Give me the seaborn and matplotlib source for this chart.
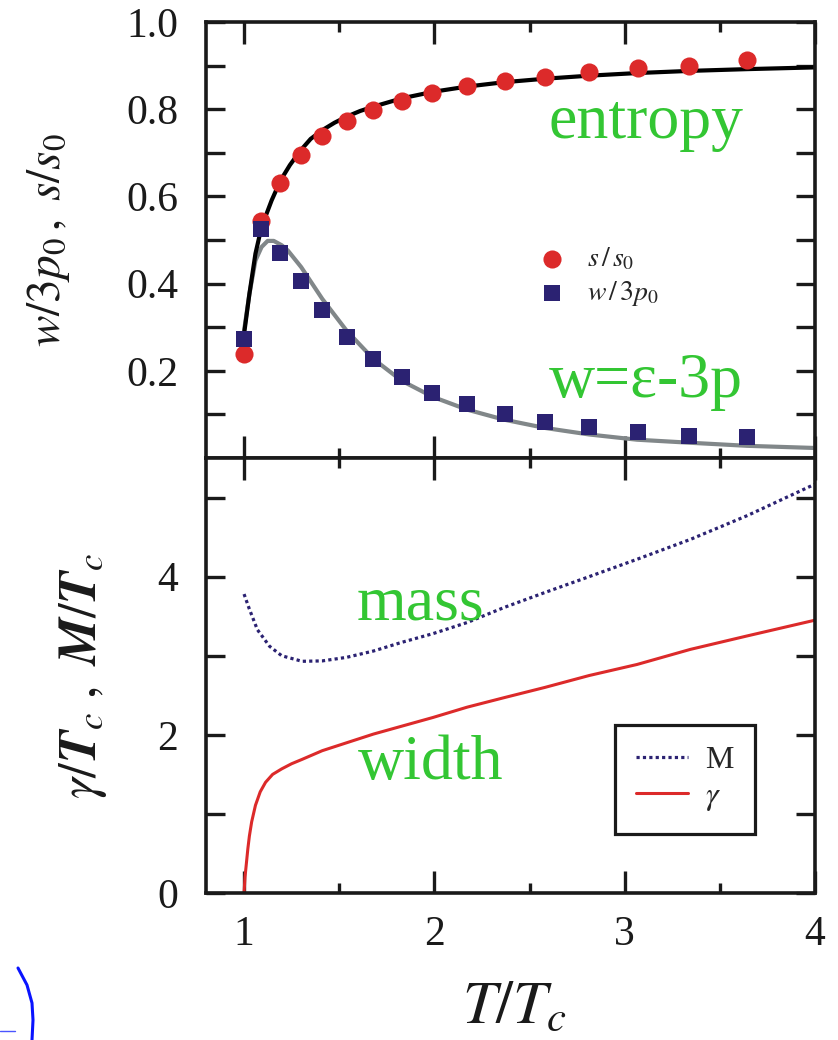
import matplotlib
matplotlib.use("Agg")
import matplotlib.pyplot as plt
import seaborn as sns
import pandas as pd
from matplotlib.lines import Line2D

# ---------------- data ----------------
# lattice-like points (T/Tc)
pts_T = [1.00, 1.09, 1.19, 1.30, 1.41, 1.54, 1.68, 1.83, 1.99, 2.17,
         2.37, 2.58, 2.81, 3.07, 3.34, 3.64]
s_pts = [0.238, 0.544, 0.630, 0.694, 0.739, 0.773, 0.798, 0.820, 0.837, 0.853,
         0.865, 0.875, 0.885, 0.894, 0.899, 0.912]
w_pts = [0.274, 0.526, 0.470, 0.407, 0.339, 0.277, 0.227, 0.185, 0.148, 0.123,
         0.100, 0.083, 0.070, 0.060, 0.050, 0.049]

# model curves, top panel
s_curve_T = [1.00, 1.028, 1.060, 1.092, 1.145, 1.192, 1.241, 1.296, 1.350, 1.411,
             1.475, 1.539, 1.610, 1.680, 1.829, 1.993, 2.172, 2.366, 2.581, 2.813,
             3.065, 3.344, 3.642, 4.00]
s_curve = [0.284, 0.376, 0.469, 0.530, 0.591, 0.637, 0.672, 0.705, 0.732, 0.752,
           0.769, 0.783, 0.796, 0.806, 0.825, 0.840, 0.852, 0.862, 0.870, 0.877,
           0.883, 0.888, 0.892, 0.896]
w_curve_T = [1.00, 1.028, 1.060, 1.092, 1.124, 1.156, 1.198, 1.230, 1.300, 1.411,
             1.539, 1.680, 1.829, 1.993, 2.172, 2.366, 2.581, 2.813, 3.065, 3.344,
             3.642, 4.00]
w_curve = [0.292, 0.376, 0.453, 0.484, 0.498, 0.498, 0.488, 0.476, 0.438, 0.365,
           0.292, 0.227, 0.177, 0.140, 0.111, 0.088, 0.069, 0.054, 0.042, 0.035,
           0.028, 0.023]

# bottom panel: mass M/Tc and width gamma/Tc
M_T = [1.00, 1.028, 1.070, 1.134, 1.198, 1.305, 1.411, 1.539, 1.680, 1.829,
       1.993, 2.172, 2.366, 2.581, 2.813, 3.065, 3.344, 3.642, 4.00]
M_val = [3.78, 3.59, 3.33, 3.12, 3.00, 2.93, 2.935, 2.98, 3.06, 3.17,
         3.28, 3.42, 3.61, 3.80, 4.00, 4.22, 4.47, 4.77, 5.17]
g_T = [1.00, 1.005, 1.011, 1.020, 1.028, 1.040, 1.060, 1.085, 1.113, 1.150,
       1.198, 1.250, 1.305, 1.411, 1.539, 1.680, 1.829, 1.993, 2.172, 2.366,
       2.581, 2.813, 3.065, 3.344, 3.642, 4.00]
g_val = [0.0, 0.20, 0.345, 0.56, 0.72, 0.90, 1.11, 1.28, 1.40, 1.50,
         1.57, 1.635, 1.69, 1.80, 1.90, 2.01, 2.11, 2.22, 2.35, 2.47,
         2.60, 2.75, 2.89, 3.08, 3.25, 3.45]

x_major = [1, 2, 3, 4]
x_minor = [1.5, 2.5, 3.5]
top_major = [0.2, 0.4, 0.6, 0.8, 1.0]
top_minor = [0.1, 0.3, 0.5, 0.7, 0.9]
bot_major = [0, 2, 4]
bot_minor = [1, 3, 5]

# ---------------- style ----------------
sns.set_style("ticks")
plt.rcParams["font.family"] = ["Liberation Serif", "DejaVu Serif"]
plt.rcParams["mathtext.fontset"] = "stix"

RED = "#dc2a2a"
NAVY = "#2b2272"
GRAY = "#818789"
GREEN = "#33c633"
INK = "#1a1a1a"

fig = plt.figure(figsize=(8.38, 10.40), dpi=100)
ax1 = fig.add_axes([0.2458, 0.5596, 0.7268, 0.4192])
ax2 = fig.add_axes([0.2458, 0.1413, 0.7268, 0.4183])

df_pts = pd.DataFrame({"T": pts_T, "s": s_pts, "w": w_pts})
df_sc = pd.DataFrame({"T": s_curve_T, "y": s_curve})
df_wc = pd.DataFrame({"T": w_curve_T, "y": w_curve})
df_M = pd.DataFrame({"T": M_T, "y": M_val})
df_g = pd.DataFrame({"T": g_T, "y": g_val})

# top panel
sns.lineplot(data=df_wc, x="T", y="y", ax=ax1, color=GRAY, linewidth=3.0,
             sort=False, estimator=None)
sns.lineplot(data=df_sc, x="T", y="y", ax=ax1, color="black", linewidth=3.0,
             sort=False, estimator=None)
sns.scatterplot(data=df_pts, x="T", y="s", ax=ax1, color=RED, marker="o",
                s=170, linewidth=0, label=r"$s\,/\,s_0$", zorder=5)
sns.scatterplot(data=df_pts, x="T", y="w", ax=ax1, color=NAVY, marker="s",
                s=125, linewidth=0, label=r"$w\,/\,3p_0$", zorder=5)

# bottom panel
sns.lineplot(data=df_M, x="T", y="y", ax=ax2, color=NAVY, linewidth=2.3,
             linestyle=(0, (1.0, 1.0)), sort=False, estimator=None, label="M")
sns.lineplot(data=df_g, x="T", y="y", ax=ax2, color=RED, linewidth=2.2,
             sort=False, estimator=None, label=r"$\gamma$")

# axes setup
for ax in (ax1, ax2):
    ax.set_xlim(0.8, 4.0)
    ax.set_xticks(x_major)
    ax.set_xticks(x_minor, minor=True)
    ax.tick_params(which="both", direction="in", top=True, right=True,
                   width=2.4, color=INK, labelsize=30, labelcolor=INK)
    ax.tick_params(axis="x", which="major", length=16, pad=16)
    ax.tick_params(axis="x", which="minor", length=7)
    ax.tick_params(axis="y", which="both", length=14, pad=20)
    for sp in ax.spines.values():
        sp.set_linewidth(2.6)
        sp.set_color(INK)
    ax.set_xlabel("")
    ax.set_ylabel("")

ax1.set_ylim(0, 1.0)
ax1.set_yticks(top_major)
ax1.set_yticks(top_minor, minor=True)
ax1.set_yticklabels([f"{v:.1f}" for v in top_major])
ax1.tick_params(axis="x", labelbottom=False)

ax2.set_ylim(0, 5.5)
ax2.set_yticks(bot_major)
ax2.set_yticks(bot_minor, minor=True)
ax2.set_xticklabels([str(v) for v in x_major])

# labels
ax1.set_ylabel(r"$w/3p_0\,,\ s/s_0$", fontsize=34, color=INK)
ax1.yaxis.set_label_coords(-0.22, 0.5)
ax2.set_ylabel(r"$\gamma/\mathbfit{T}_c\ ,\ \mathbfit{M}/\mathbfit{T}_c$", fontsize=38, color=INK)
ax2.yaxis.set_label_coords(-0.16, 0.5)
ax2.set_xlabel(r"$T/T_c$", fontsize=44, color=INK)
ax2.xaxis.set_label_coords(0.507, -0.201)

# annotations
ax1.text(2.60, 0.733, "entropy", fontsize=46, color=GREEN, ha="left", va="baseline")
ax1.text(2.60, 0.141, "w=\u03b5-3p", fontsize=46, color=GREEN, ha="left", va="baseline")
ax2.text(1.59, 3.46, "mass", fontsize=46, color=GREEN, ha="left", va="baseline")
ax2.text(1.60, 1.44, "width", fontsize=46, color=GREEN, ha="left", va="baseline")

# legends
h1, l1 = ax1.get_legend_handles_labels()
leg1 = ax1.legend(h1, l1, loc="center left", bbox_to_anchor=(0.545, 0.416),
                  borderaxespad=0, borderpad=0, frameon=False, fontsize=20,
                  handlelength=1.0, handletextpad=0.75, labelspacing=0.25,
                  scatterpoints=1)
h2, l2 = ax2.get_legend_handles_labels()
leg2 = ax2.legend(h2, l2, loc="upper left", bbox_to_anchor=(0.672, 0.386),
                  borderaxespad=0, borderpad=0.65, frameon=True, fancybox=False,
                  fontsize=23, handlelength=1.62, handletextpad=0.55,
                  labelspacing=0.2)
fr = leg2.get_frame()
fr.set_edgecolor(INK)
fr.set_linewidth(2.3)
fr.set_facecolor("white")
fr.set_alpha(1)

# small blue crop remnant at the lower-left edge of the reference
fig.add_artist(Line2D([18/838, 27/838, 32/838, 33/838, 32/838],
                      [1-968/1040, 1-985/1040, 1-1003/1040, 1-1020/1040, 1-1040/1040],
                      transform=fig.transFigure, color="#0a14ff", linewidth=2.2))
fig.add_artist(Line2D([0, 15/838], [1-1031/1040, 1-1031/1040],
                      transform=fig.transFigure, color="#4a55ff", linewidth=1.0))

fig.savefig("out.png", dpi=100)
